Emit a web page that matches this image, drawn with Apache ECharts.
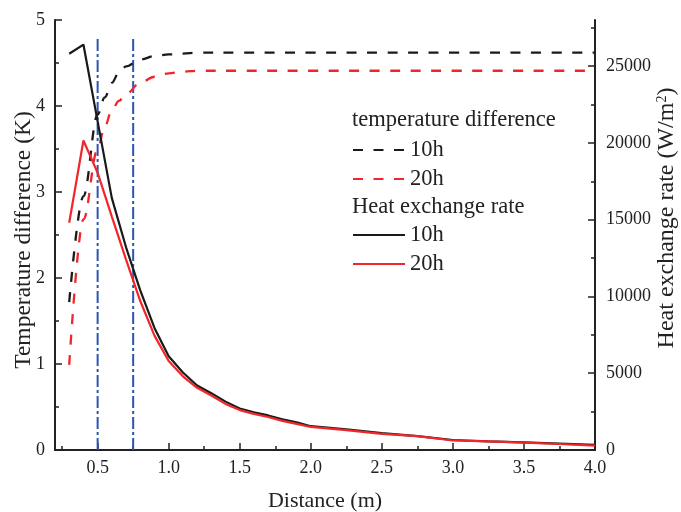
<!DOCTYPE html>
<html>
<head>
<meta charset="utf-8">
<script src="https://cdn.jsdelivr.net/npm/echarts@6/dist/echarts.min.js"></script>
<style>html,body{margin:0;padding:0;background:#fff}#c{width:681px;height:512px}</style>
</head>
<body>
<div id="c"></div>
<script>
// ---- data ----
const distT = [0.3,0.4,0.5,0.55,0.6,0.65,0.7,0.8,0.9,1.0,1.1,1.2,1.5,2.0,2.5,3.0,3.5,4.0];
const tempDiff10h = [1.72,2.95,3.90,4.10,4.27,4.39,4.46,4.54,4.58,4.60,4.61,4.62,4.62,4.62,4.62,4.62,4.62,4.62];
const tempDiff20h = [0.99,2.68,3.50,3.76,3.95,4.06,4.14,4.27,4.34,4.38,4.40,4.41,4.41,4.41,4.41,4.41,4.41,4.41];

const distQ = [0.3,0.4,0.5,0.6,0.7,0.8,0.9,1.0,1.1,1.2,1.3,1.4,1.5,1.6,1.7,1.8,1.9,2.0,2.25,2.5,2.75,3.0,3.25,3.5,3.75,4.0];
const heatRate10h = [25800,26400,21400,16400,13200,10400,7950,6100,5050,4200,3700,3150,2700,2450,2250,2000,1800,1550,1350,1100,900,650,560,500,420,330];
const heatRate20h = [14800,20150,18050,15200,12400,9700,7450,5800,4800,4050,3550,3000,2600,2350,2150,1900,1700,1500,1300,1050,900,620,560,480,390,280];

const markerX = [0.5, 0.75];
const markerTop = 4.78;

const xMajorTicks = [0.5,1.0,1.5,2.0,2.5,3.0,3.5,4.0];
const xMinorTicks = [0.25,0.75,1.25,1.75,2.25,2.75,3.25,3.75];
const rightMajorTicks = [0,5000,10000,15000,20000,25000];
const rightMinorTicks = [2500,7500,12500,17500,22500,27500];

const legendHeadT = 'temperature difference';
const legendHeadQ = 'Heat exchange rate';
const seriesLabels = ['10h','20h'];

// ---- chart ----
const FONT = '"Liberation Serif", "Times New Roman", serif';
const AX = '#222';
const pairs = (xs, ys) => xs.map((x, i) => [x, ys[i]]);

const chart = echarts.init(document.getElementById('c'), null, {renderer: 'canvas'});

const series = [
  {
    name: 'T ' + seriesLabels[0], type: 'line', xAxisIndex: 0, yAxisIndex: 0,
    data: pairs(distT, tempDiff10h), symbol: 'none', smooth: 0.35, smoothMonotone: 'x',
    lineStyle: {color: '#1a1a1a', width: 2.3, type: [10, 10.5]}, itemStyle: {color: '#1a1a1a'}, z: 3
  },
  {
    name: 'T ' + seriesLabels[1], type: 'line', xAxisIndex: 0, yAxisIndex: 0,
    data: pairs(distT, tempDiff20h), symbol: 'none', smooth: 0.35, smoothMonotone: 'x',
    lineStyle: {color: '#f0262b', width: 2.3, type: [10, 10.5]}, itemStyle: {color: '#f0262b'}, z: 3
  },
  {
    name: 'Q ' + seriesLabels[0], type: 'line', xAxisIndex: 0, yAxisIndex: 1,
    data: pairs(distQ, heatRate10h), symbol: 'none',
    lineStyle: {color: '#1a1a1a', width: 2.2}, itemStyle: {color: '#1a1a1a'}, z: 4
  },
  {
    name: 'Q ' + seriesLabels[1], type: 'line', xAxisIndex: 0, yAxisIndex: 1,
    data: pairs(distQ, heatRate20h), symbol: 'none',
    lineStyle: {color: '#f0262b', width: 2.2}, itemStyle: {color: '#f0262b'}, z: 4
  }
];
markerX.forEach((mx, i) => {
  series.push({
    name: 'marker' + i, type: 'line', xAxisIndex: 0, yAxisIndex: 0,
    data: [[mx, 0], [mx, markerTop]], symbol: 'none', silent: true,
    lineStyle: {color: '#2b55b3', width: 2, type: [12, 3, 3, 3]}, z: 2
  });
});

const legendCommon = {
  orient: 'vertical', left: 347, itemWidth: 52, itemHeight: 14, itemGap: 6,
  selectedMode: false,
  itemStyle: {opacity: 0, borderWidth: 0},
  textStyle: {fontFamily: FONT, fontSize: 22.5, color: '#222'},
  formatter: n => n.split(' ').pop()
};

chart.setOption({
  animation: false,
  backgroundColor: '#fff',
  grid: {left: 55, right: 86, top: 20, bottom: 62, outerBoundsMode: 'none', containLabel: false},
  xAxis: [
    {
      type: 'value', min: 0.2, max: 4.0, position: 'bottom',
      name: 'Distance (m)', nameLocation: 'middle', nameGap: 40,
      nameTextStyle: {fontFamily: FONT, fontSize: 22, color: '#222'},
      axisLine: {show: true, lineStyle: {color: AX, width: 2}},
      axisTick: {show: true, inside: true, length: 7, customValues: xMajorTicks, lineStyle: {color: AX, width: 1.5}},
      axisLabel: {customValues: xMajorTicks, formatter: v => Number(v).toFixed(1), fontFamily: FONT, fontSize: 18, color: '#222', margin: 9},
      splitLine: {show: false}
    },
    {
      type: 'value', min: 0.2, max: 4.0, position: 'bottom',
      axisLine: {show: false},
      axisTick: {show: true, inside: true, length: 4, customValues: xMinorTicks, lineStyle: {color: AX, width: 1.5}},
      axisLabel: {show: false}, splitLine: {show: false}
    },
    {
      type: 'value', min: 0.2, max: 4.0, position: 'top',
      axisLine: {show: true, lineStyle: {color: AX, width: 2}},
      axisTick: {show: false}, axisLabel: {show: false}, splitLine: {show: false}
    }
  ],
  yAxis: [
    {
      type: 'value', min: 0, max: 5, interval: 1, position: 'left',
      name: 'Temperature difference (K)', nameLocation: 'middle', nameGap: 19, nameMoveOverlap: false,
      nameTextStyle: {fontFamily: FONT, fontSize: 23.5, color: '#222', padding: [0, 10, 0, 0]},
      axisLine: {show: true, lineStyle: {color: AX, width: 2}},
      axisTick: {show: true, inside: true, length: 7, lineStyle: {color: AX, width: 1.5}},
      minorTick: {show: true, splitNumber: 2, length: 4, lineStyle: {color: AX, width: 1.5}},
      axisLabel: {fontFamily: FONT, fontSize: 18, color: '#222', margin: 10},
      splitLine: {show: false}
    },
    {
      type: 'value', min: 0, max: 28000, position: 'right',
      name: 'Heat exchange rate (W/m{sup|2})', nameLocation: 'middle', nameGap: 60, nameMoveOverlap: false,
      nameTextStyle: {fontFamily: FONT, fontSize: 24, color: '#222', padding: [0, 0, 0, 34],
        rich: {sup: {fontFamily: FONT, fontSize: 14, color: '#222', verticalAlign: 'top', padding: [0, 0, 10, 0]}}},
      axisLine: {show: true, lineStyle: {color: AX, width: 2}},
      axisTick: {show: true, inside: true, length: 7, customValues: rightMajorTicks, lineStyle: {color: AX, width: 1.5}},
      axisLabel: {customValues: rightMajorTicks, formatter: v => String(v), fontFamily: FONT, fontSize: 18, color: '#222', margin: 11},
      splitLine: {show: false}
    },
    {
      type: 'value', min: 0, max: 28000, position: 'right',
      axisLine: {show: false},
      axisTick: {show: true, inside: true, length: 4, customValues: rightMinorTicks, lineStyle: {color: AX, width: 1.5}},
      axisLabel: {show: false}, splitLine: {show: false}
    }
  ],
  legend: [
    Object.assign({}, legendCommon, {top: 133.5, data: ['T 10h', 'T 20h']}),
    Object.assign({}, legendCommon, {top: 218.5, data: ['Q 10h', 'Q 20h']})
  ],
  graphic: [
    {type: 'text', left: 352, top: 109, style: {text: legendHeadT, fontFamily: FONT, fontSize: 22.5, fill: '#222'}},
    {type: 'text', left: 352, top: 195.5, style: {text: legendHeadQ, fontFamily: FONT, fontSize: 22.5, fill: '#222'}}
  ],
  series: series
});
</script>
</body>
</html>
